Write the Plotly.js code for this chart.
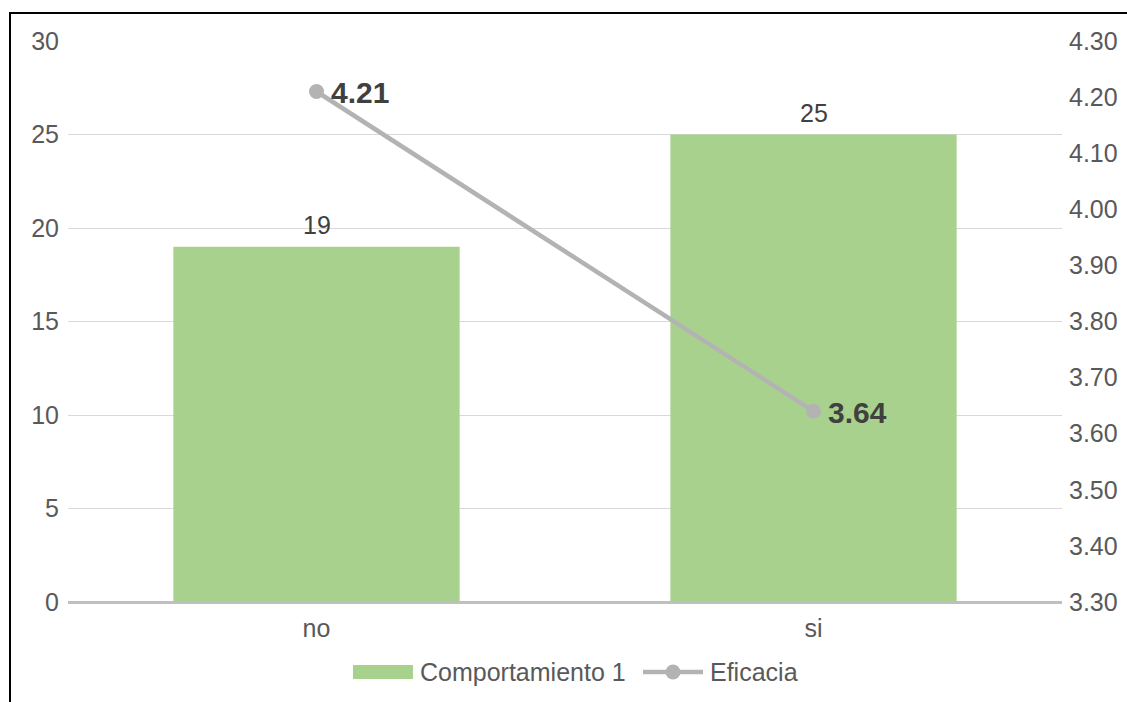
<!DOCTYPE html>
<html>
<head>
<meta charset="utf-8">
<script src="https://cdn.plot.ly/plotly-3.0.1.min.js"></script>
<style>
  html, body { margin: 0; padding: 0; background: #ffffff; overflow: hidden; }
  #frame {
    position: absolute; left: 9px; top: 12px; width: 1300px; height: 900px;
    border: 2px solid #000000; box-sizing: border-box;
  }
  #chart { position: absolute; left: 0; top: 0; width: 1127px; height: 702px; }
</style>
</head>
<body>
<div id="frame"></div>
<div id="chart"></div>
<script>
// Categories and series
const categories = ["no", "si"];
const comportamiento = [19, 25];
const eficacia = [4.21, 3.64];

// Series names and axis ticks
const barName = "Comportamiento 1";
const lineName = "Eficacia";
const leftTicks = [0, 5, 10, 15, 20, 25, 30];
const rightTicks = [3.30, 3.40, 3.50, 3.60, 3.70, 3.80, 3.90, 4.00, 4.10, 4.20, 4.30];

const FONT = "Liberation Sans, Arial, sans-serif";
const GREEN = "#a9d18e";
const GREY = "#b3b3b3";
const TXT = "#595959";
const DARK = "#404040";
const FS = 25;

const bars = {
  type: "bar",
  name: barName,
  x: categories,
  y: comportamiento,
  width: 0.576,
  marker: { color: GREEN },
  hoverinfo: "skip",
  showlegend: false
};

const line = {
  type: "scatter",
  mode: "lines+markers",
  name: lineName,
  x: categories,
  y: eficacia,
  yaxis: "y2",
  line: { color: GREY, width: 4.5 },
  marker: { color: GREY, size: 15 },
  cliponaxis: false,
  hoverinfo: "skip",
  showlegend: false
};

// Plot-area geometry (pixels) used to place the legend in paper units
const W = 1127, H = 702;
const M = { l: 68, r: 65, t: 41, b: 100 };
const PW = W - M.l - M.r, PH = H - M.t - M.b;
const px = x => (x - M.l) / PW;
const py = y => (H - M.b - y) / PH;

const legendY = 672;
const shapes = [
  { type: "rect", xref: "paper", yref: "paper",
    x0: px(353), x1: px(413), y0: py(665), y1: py(679),
    fillcolor: GREEN, line: { width: 0 } },
  { type: "line", xref: "paper", yref: "paper",
    x0: px(643), x1: px(703), y0: py(legendY), y1: py(legendY),
    line: { color: GREY, width: 4.5 } },
  { type: "circle", xref: "paper", yref: "paper",
    x0: px(665.5), x1: px(680.5), y0: py(664.5), y1: py(679.5),
    fillcolor: GREY, line: { width: 0 } }
];

// Value labels: bar counts above each bar, line values to the right of each marker
const barLabels = categories.map((c, i) => ({
  x: c, y: comportamiento[i], xref: "x", yref: "y",
  text: String(comportamiento[i]), showarrow: false,
  xanchor: "center", yanchor: "bottom", yshift: 6,
  font: { family: FONT, size: FS, color: DARK }
}));
const lineLabels = categories.map((c, i) => ({
  x: c, y: eficacia[i], xref: "x", yref: "y2",
  text: eficacia[i].toFixed(2), showarrow: false,
  xanchor: "left", yanchor: "middle", xshift: 12, yshift: -1,
  font: { family: FONT, size: 30, color: DARK, weight: "bold" }
}));

const annotations = barLabels.concat(lineLabels, [
  { xref: "paper", yref: "paper", x: px(418), y: py(legendY), xanchor: "left", yanchor: "middle",
    text: barName, showarrow: false, font: { family: FONT, size: FS, color: TXT } },
  { xref: "paper", yref: "paper", x: px(708), y: py(legendY), xanchor: "left", yanchor: "middle",
    text: lineName, showarrow: false, font: { family: FONT, size: FS, color: TXT } }
]);

const layout = {
  width: W, height: H,
  margin: M,
  paper_bgcolor: "rgba(0,0,0,0)",
  plot_bgcolor: "rgba(0,0,0,0)",
  font: { family: FONT, size: FS, color: TXT },
  showlegend: false,
  xaxis: {
    type: "category",
    showgrid: false, showline: false, zeroline: false,
    ticks: "", ticklabelstandoff: 9,
    tickfont: { family: FONT, size: FS, color: TXT }
  },
  yaxis: {
    range: [0, 30],
    tickvals: leftTicks,
    ticktext: leftTicks.map(String),
    showgrid: true, gridcolor: "#d9d9d9", gridwidth: 1,
    zeroline: true, zerolinecolor: "#bfbfbf", zerolinewidth: 3,
    showline: false, ticks: "", ticklabelstandoff: 8,
    tickfont: { family: FONT, size: FS, color: TXT }
  },
  yaxis2: {
    overlaying: "y", side: "right",
    range: [3.3, 4.3],
    tickvals: rightTicks,
    ticktext: rightTicks.map(v => v.toFixed(2)),
    showgrid: false, zeroline: false, showline: false,
    ticks: "", ticklabelstandoff: 6,
    tickfont: { family: FONT, size: FS, color: TXT }
  },
  shapes: shapes,
  annotations: annotations
};

Plotly.newPlot("chart", [bars, line], layout, { staticPlot: true, displayModeBar: false });
</script>
</body>
</html>
